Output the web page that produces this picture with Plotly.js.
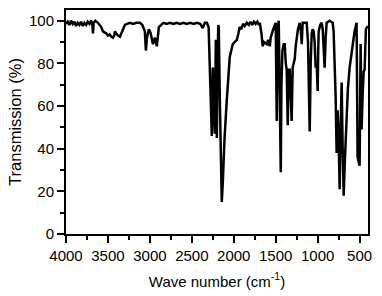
<!DOCTYPE html>
<html>
<head>
<meta charset="utf-8">
<script src="https://cdn.plot.ly/plotly-3.0.1.min.js"></script>
<style>html,body{margin:0;padding:0;background:#fff;}#chart{width:382px;height:296px;}</style>
</head>
<body>
<div id="chart"></div>
<script>
const wavenumber = [4000,3980,3960,3940,3920,3900,3880,3860,3840,3820,3800,3780,3760,3740,3720,3700,3685,3679,3670,3650,3620,3600,3580,3560,3540,3520,3500,3480,3460,3440,3425,3417,3400,3380,3357,3330,3298,3270,3238,3200,3160,3119,3090,3060,3048,3035,3012,2990,2964,2940,2917,2893,2870,2840,2800,2760,2720,2680,2640,2600,2560,2520,2480,2440,2400,2380,2369,2345,2321,2300,2286,2274,2262,2256,2250,2238,2226,2220,2214,2208,2202,2195,2185,2179,2165,2150,2143,2130,2110,2083,2065,2048,2030,2012,1990,1964,1945,1929,1910,1890,1870,1845,1820,1800,1780,1760,1740,1720,1700,1690,1670,1655,1640,1620,1607,1590,1571,1560,1548,1530,1510,1500,1488,1478,1464,1452,1440,1432,1420,1405,1393,1380,1369,1357,1345,1333,1322,1310,1298,1286,1274,1262,1250,1235,1214,1200,1190,1184,1179,1160,1131,1115,1095,1083,1071,1060,1048,1036,1024,1012,1000,994,988,970,952,940,930,917,905,893,875,857,840,821,810,798,786,774,762,750,738,726,714,702,690,675,655,640,619,600,583,560,536,524,512,500,494,488,482,476,464,452,440,432,425,410,400];
const transmission = [98.5,99.5,98,100,98.5,99.5,97.5,99,98,99.5,97.5,99,98,99.5,98.5,100,98,94,99,100,99,98,97,95,94.5,94,93,93.5,92.5,92,93,95,94,93,92.5,95,98,98.5,99,98.5,99,99,98,95,86,92,96,94,89,92,88,97,98,99,98.5,99,98.5,99,98.5,99,98.5,99,98.5,99,98.5,97,96.5,99,99,97,78,60,46,60,78,60,47,70,91,60,45,75,98,97,60,22,15,25,45,63,75,83,86,89,90,91,94,97,96,98.5,97.5,99,98,99.5,98,99.5,98.5,99.5,98,99,94,88,90,89.5,89,91,88,92,94,96,98,99,53,95,100,70,29,70,86,89,89,80,77,51,77,77,60,53,78,80,82,88,91,96,99,95,89,95,99,99,99,90,48,80,94,96,95,90,78,80,67,85,95,98,99,96,90,78,92,99,99.5,100,99.5,99,95,80,65,38,58,45,21,50,71,40,18,35,58,68,78,84,89,95,99,36,34,32,60,89,70,49,65,76,77,90,96,97,97];
const xTickVals = [4000,3500,3000,2500,2000,1500,1000,500];
const yTickVals = [0,20,40,60,80,100];

const fontFam = 'Arial, "Liberation Sans", sans-serif';
Plotly.newPlot('chart', [{
  x: wavenumber, y: transmission, type: 'scatter', mode: 'lines',
  line: {color: '#000', width: 2.5}, hoverinfo: 'skip'
}], {
  width: 382, height: 296,
  margin: {l: 66, r: 14, t: 10, b: 62},
  paper_bgcolor: '#fff', plot_bgcolor: '#fff',
  showlegend: false,
  font: {family: fontFam, color: '#000', size: 15},
  xaxis: {
    range: [4000, 400], tickvals: xTickVals, ticktext: xTickVals.map(String),
    showgrid: false, zeroline: false, showline: true, mirror: true,
    linecolor: '#000', linewidth: 2, ticks: 'outside', ticklen: 7, tickwidth: 2, tickcolor: '#000',
    tickfont: {size: 15, family: fontFam},
    minor: {dtick: 250, ticks: 'outside', ticklen: 4, tickwidth: 2, tickcolor: '#000', showgrid: false},
    title: {text: 'Wave number (cm<sup>-1</sup>)', font: {size: 15, family: fontFam}, standoff: 13}
  },
  yaxis: {
    range: [0, 105], tickvals: yTickVals, ticktext: yTickVals.map(String),
    showgrid: false, zeroline: false, showline: true, mirror: true,
    linecolor: '#000', linewidth: 2, ticks: 'outside', ticklen: 7, tickwidth: 2, tickcolor: '#000',
    tickfont: {size: 15, family: fontFam},
    minor: {dtick: 10, ticks: 'outside', ticklen: 4, tickwidth: 2, tickcolor: '#000', showgrid: false},
    title: {text: 'Transmission (%)', font: {size: 16.5, family: fontFam}, standoff: 3}
  }
}, {staticPlot: true, displayModeBar: false});
</script>
</body>
</html>
